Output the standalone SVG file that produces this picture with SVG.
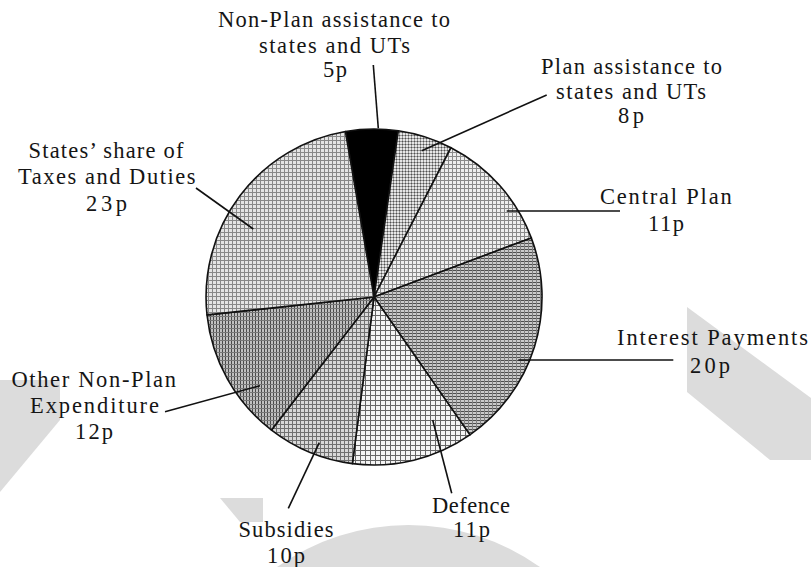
<svg xmlns="http://www.w3.org/2000/svg" width="811" height="567" viewBox="0 0 811 567">
<style>
text{font-family:"Liberation Serif","Times New Roman",serif;font-size:22.5px;fill:#151515}
.slice{stroke:#111;stroke-width:1.6;stroke-linejoin:round}
.lead{stroke:#111;stroke-width:1.6;fill:none}
.wm{fill:#dcdcdc}
</style>
<defs>
<pattern id="pStates" width="4" height="4" patternUnits="userSpaceOnUse"><rect width="4" height="4" fill="#e4e4e4"/><rect width="4" height="1" fill="#888"/><rect width="1" height="4" fill="#888"/></pattern>
<pattern id="pOther" width="3" height="4" patternUnits="userSpaceOnUse"><rect width="3" height="4" fill="#c0c0c0"/><rect width="1" height="4" fill="#4a4a4a"/><rect width="3" height="1" fill="#777"/></pattern>
<pattern id="pSubs" width="4" height="4" patternUnits="userSpaceOnUse"><rect width="4" height="4" fill="#d8d8d8"/><rect width="4" height="1" fill="#707070"/><rect width="1" height="4" fill="#707070"/></pattern>
<pattern id="pDef" width="5" height="5" patternUnits="userSpaceOnUse"><rect width="5" height="5" fill="#f4f4f4"/><rect width="5" height="1" fill="#666"/><rect width="1" height="5" fill="#666"/></pattern>
<pattern id="pInt" width="4" height="3" patternUnits="userSpaceOnUse"><rect width="4" height="3" fill="#cacaca"/><rect width="4" height="1" fill="#4e4e4e"/><rect width="1" height="3" fill="#808080"/></pattern>
<pattern id="pCen" width="4" height="4" patternUnits="userSpaceOnUse"><rect width="4" height="4" fill="#eeeeee"/><rect width="4" height="1" fill="#8a8a8a"/><rect width="1" height="4" fill="#8a8a8a"/></pattern>
<pattern id="pPlan" width="3" height="3" patternUnits="userSpaceOnUse"><rect width="3" height="3" fill="#e6e6e6"/><rect width="3" height="1" fill="#999"/><rect width="1" height="3" fill="#999"/><rect width="1" height="1" fill="#505050"/></pattern>
</defs>

<g id="watermark">
<polygon class="wm" points="0,380 60,380 60,420 0,492"/>
<polygon class="wm" points="687,307 811,398 811,460 770,460 687,392"/>
<polygon class="wm" points="220,498 263,498 263,522 240,522"/>
<path class="wm" d="M277,567 A227,227 0 0 1 540,567 Z"/>
</g>

<g id="slice-nonplan"><path class="slice" fill="#000" d="M374,297 L345.4,131.5 A168,168 0 0 1 398.3,130.8 Z"/></g>
<g id="slice-plan"><path class="slice" fill="url(#pPlan)" d="M374,297 L398.3,130.8 A168,168 0 0 1 451.0,147.7 Z"/></g>
<g id="slice-central"><path class="slice" fill="url(#pCen)" d="M374,297 L451.0,147.7 A168,168 0 0 1 531.3,237.9 Z"/></g>
<g id="slice-interest"><path class="slice" fill="url(#pInt)" d="M374,297 L531.3,237.9 A168,168 0 0 1 469.9,434.9 Z"/></g>
<g id="slice-defence"><path class="slice" fill="url(#pDef)" d="M374,297 L469.9,434.9 A168,168 0 0 1 352.4,463.6 Z"/></g>
<g id="slice-subsidies"><path class="slice" fill="url(#pSubs)" d="M374,297 L352.4,463.6 A168,168 0 0 1 271.5,430.1 Z"/></g>
<g id="slice-other"><path class="slice" fill="url(#pOther)" d="M374,297 L271.5,430.1 A168,168 0 0 1 207.0,314.9 Z"/></g>
<g id="slice-states"><path class="slice" fill="url(#pStates)" d="M374,297 L207.0,314.9 A168,168 0 0 1 345.4,131.5 Z"/></g>

<g id="connectors">
<line class="lead" x1="373.3" y1="65" x2="378.3" y2="128.3"/>
<line class="lead" x1="546.7" y1="95" x2="421.7" y2="150.7"/>
<line class="lead" x1="196" y1="188" x2="253.3" y2="229"/>
<line class="lead" x1="506.7" y1="211" x2="620" y2="211"/>
<line class="lead" x1="518.3" y1="360" x2="673.3" y2="360"/>
<line class="lead" x1="165" y1="411.7" x2="260" y2="385.7"/>
<line class="lead" x1="288.3" y1="508.3" x2="319.3" y2="442.7"/>
<line class="lead" x1="451.7" y1="493.3" x2="432.7" y2="420"/>
</g>

<g id="label-nonplan">
<text x="218" y="27" textLength="232" lengthAdjust="spacing">Non-Plan assistance to</text>
<text x="259" y="52.7" textLength="151" lengthAdjust="spacing">states and UTs</text>
<text x="323" y="77" textLength="24" lengthAdjust="spacing">5p</text>
</g>
<g id="label-plan">
<text x="541" y="74" textLength="181" lengthAdjust="spacing">Plan assistance to</text>
<text x="556" y="98.5" textLength="150" lengthAdjust="spacing">states and UTs</text>
<text x="618" y="123" textLength="26" lengthAdjust="spacing">8p</text>
</g>
<g id="label-states">
<text x="28.5" y="158" textLength="155" lengthAdjust="spacing">States’ share of</text>
<text x="18" y="183.5" textLength="177.5" lengthAdjust="spacing">Taxes and Duties</text>
<text x="86" y="211" textLength="41" lengthAdjust="spacing">23p</text>
</g>
<g id="label-central">
<text x="600" y="204" textLength="131.7" lengthAdjust="spacing">Central Plan</text>
<text x="648" y="231" textLength="36" lengthAdjust="spacing">11p</text>
</g>
<g id="label-interest">
<text x="617" y="345" textLength="191" lengthAdjust="spacing">Interest Payments</text>
<text x="690" y="373" textLength="40" lengthAdjust="spacing">20p</text>
</g>
<g id="label-other">
<text x="11.4" y="387" textLength="164.6" lengthAdjust="spacing">Other Non-Plan</text>
<text x="30" y="413" textLength="129" lengthAdjust="spacing">Expenditure</text>
<text x="75" y="439" textLength="38" lengthAdjust="spacing">12p</text>
</g>
<g id="label-defence">
<text x="432" y="513" textLength="78" lengthAdjust="spacing">Defence</text>
<text x="453" y="537" textLength="37" lengthAdjust="spacing">11p</text>
</g>
<g id="label-subsidies">
<text x="238.5" y="537" textLength="95" lengthAdjust="spacing">Subsidies</text>
<text x="267" y="563" textLength="38" lengthAdjust="spacing">10p</text>
</g>
</svg>
